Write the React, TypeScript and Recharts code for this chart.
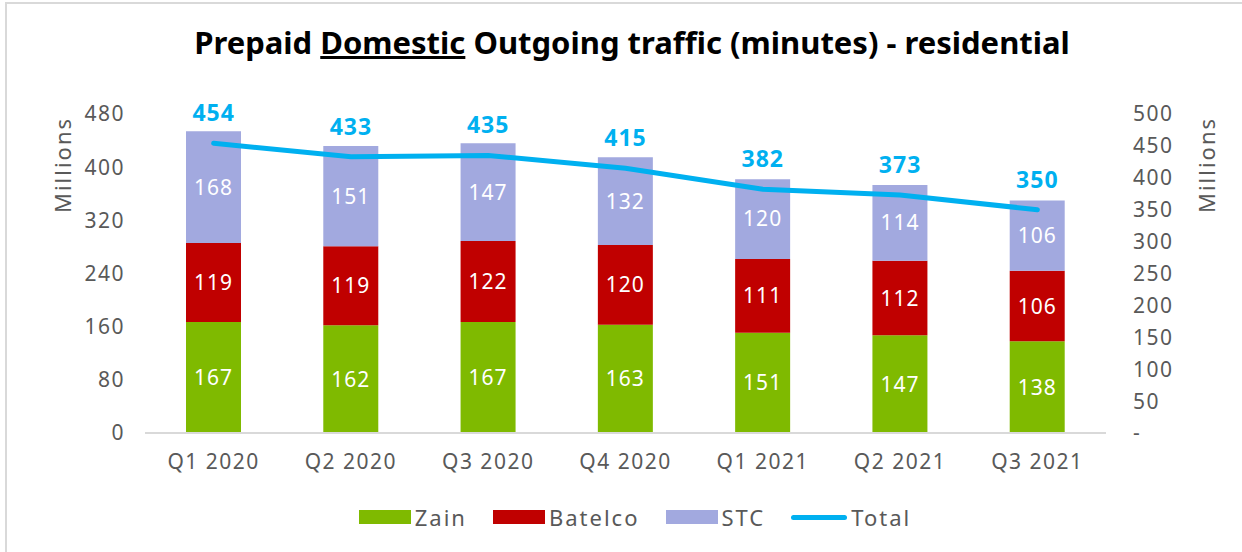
import { ComposedChart, Bar, Line, XAxis, YAxis, LabelList } from "recharts";

const quarters = ["Q1 2020", "Q2 2020", "Q3 2020", "Q4 2020", "Q1 2021", "Q2 2021", "Q3 2021"];
const zain = [167, 162, 167, 163, 151, 147, 138];
const batelco = [119, 119, 122, 120, 111, 112, 106];
const stc = [168, 151, 147, 132, 120, 114, 106];
const total = [454, 433, 435, 415, 382, 373, 350];
const leftTicks = [0, 80, 160, 240, 320, 400, 480];
const rightTicks = [0, 50, 100, 150, 200, 250, 300, 350, 400, 450, 500];

const COLORS = { zain: "#7fba00", batelco: "#c00000", stc: "#a2a9df", total: "#00b0f0" };
const FONT = "'Noto Sans', sans-serif";

const data = quarters.map((q, i) => ({ q, zain: zain[i], batelco: batelco[i], stc: stc[i], total: total[i] }));

const tickStyle = { fill: "#595959", fontSize: 21, fontFamily: FONT, letterSpacing: 1.5 };
const barLabel = { fill: "#fff", fontSize: 21, fontFamily: FONT, letterSpacing: 1 };

const legendItems = [
  { name: "Zain", color: COLORS.zain, line: false },
  { name: "Batelco", color: COLORS.batelco, line: false },
  { name: "STC", color: COLORS.stc, line: false },
  { name: "Total", color: COLORS.total, line: true },
];

export default function App() {
  return (
    <div style={{ position: "relative", width: 1242, height: 552, overflow: "hidden", background: "#fff", fontFamily: FONT }}>
      <style>{`body{margin:0}`}</style>
      <div style={{ position: "absolute", left: 5, top: 2, width: 1300, height: 600, borderLeft: "2px solid #d9d9d9", borderTop: "2px solid #d9d9d9" }} />
      <div style={{ position: "absolute", left: 0, top: 21, width: 1264, textAlign: "center", fontSize: 31, fontWeight: 700, color: "#000" }}>
        Prepaid <span style={{ textDecoration: "underline" }}>Domestic</span> Outgoing traffic (minutes) - residential
      </div>
      <div style={{ position: "absolute", left: 62, top: 165, transform: "translate(-50%, -50%) rotate(-90deg)", fontSize: 22, letterSpacing: 2, color: "#595959", whiteSpace: "nowrap" }}>
        Millions
      </div>
      <div style={{ position: "absolute", left: 1206, top: 165, transform: "translate(-50%, -50%) rotate(-90deg)", fontSize: 22, letterSpacing: 2, color: "#595959", whiteSpace: "nowrap" }}>
        Millions
      </div>
      <div style={{ position: "absolute", top: 0, left: 0 }}>
        <ComposedChart width={1242} height={552} data={data} margin={{ top: 114, right: 76, bottom: 89, left: 85 }}>
          <XAxis dataKey="q" tick={tickStyle} tickLine={false} axisLine={{ stroke: "#d9d9d9", strokeWidth: 2 }} tickMargin={15} height={30} />
          <YAxis yAxisId="left" domain={[0, 480]} ticks={leftTicks} tick={tickStyle} tickLine={false} axisLine={false} tickMargin={14} width={60} interval={0} />
          <YAxis yAxisId="right" orientation="right" domain={[0, 500]} ticks={rightTicks} tick={{ ...tickStyle, textAnchor: "start" }} tickLine={false} axisLine={false} tickMargin={21} width={60} interval={0} tickFormatter={(v: number) => (v === 0 ? "-" : String(v))} />
          <Bar yAxisId="left" dataKey="zain" stackId="a" fill={COLORS.zain} barSize={55} isAnimationActive={false}>
            <LabelList dataKey="zain" position="center" style={barLabel} />
          </Bar>
          <Bar yAxisId="left" dataKey="batelco" stackId="a" fill={COLORS.batelco} barSize={55} isAnimationActive={false}>
            <LabelList dataKey="batelco" position="center" style={barLabel} />
          </Bar>
          <Bar yAxisId="left" dataKey="stc" stackId="a" fill={COLORS.stc} barSize={55} isAnimationActive={false}>
            <LabelList dataKey="stc" position="center" style={barLabel} />
          </Bar>
          <Line yAxisId="right" dataKey="total" stroke={COLORS.total} strokeWidth={5} strokeLinecap="round" dot={false} activeDot={false} isAnimationActive={false}>
            <LabelList dataKey="total" position="top" offset={22} style={{ fill: COLORS.total, fontSize: 23, fontWeight: 700, fontFamily: FONT, letterSpacing: 1 }} />
          </Line>
        </ComposedChart>
      </div>
      <div style={{ position: "absolute", top: 502, left: 0, width: 1270, display: "flex", justifyContent: "center", alignItems: "center", gap: 26, fontSize: 22, letterSpacing: 2, color: "#595959" }}>
        {legendItems.map((it) => (
          <div key={it.name} style={{ display: "flex", alignItems: "center", gap: 4 }}>
            {it.line ? (
              <div style={{ width: 56, height: 5, borderRadius: 3, background: it.color }} />
            ) : (
              <div style={{ width: 52, height: 14, background: it.color }} />
            )}
            <span>{it.name}</span>
          </div>
        ))}
      </div>
    </div>
  );
}
